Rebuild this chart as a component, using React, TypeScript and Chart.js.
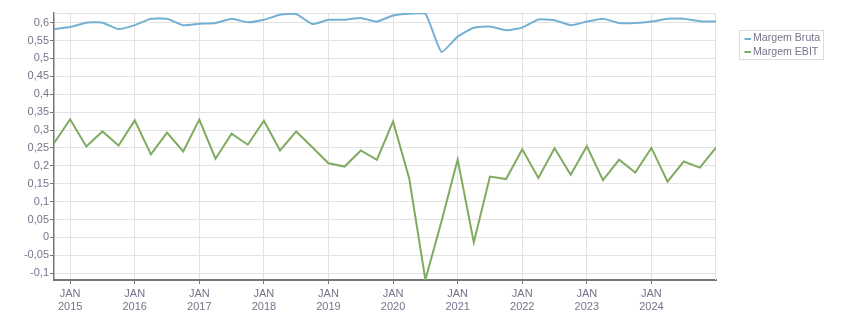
import React, { useEffect, useRef } from "react";
import { Chart, registerables } from "chart.js";

Chart.register(...registerables);

const seriesNames = ["Margem Bruta", "Margem EBIT"];

// Quarterly values, Oct 2014 .. Jan 2025 (index 0..41)
const margemBruta = [
  0.582, 0.588, 0.6, 0.6, 0.582, 0.593, 0.611, 0.611, 0.593, 0.597,
  0.599, 0.611, 0.601, 0.608, 0.622, 0.624, 0.596, 0.608, 0.608, 0.613,
  0.603, 0.62, 0.625, 0.625, 0.518, 0.561, 0.586, 0.589, 0.579, 0.586,
  0.609, 0.607, 0.593, 0.603, 0.611, 0.599, 0.599, 0.603, 0.611, 0.611,
  0.604, 0.603,
];

const margemEbit = [
  0.263, 0.33, 0.254, 0.296, 0.257, 0.327, 0.232, 0.293, 0.24, 0.329,
  0.22, 0.29, 0.259, 0.326, 0.243, 0.296, 0.252, 0.207, 0.198, 0.243,
  0.217, 0.324, 0.165, -0.118, 0.045, 0.218, -0.014, 0.17, 0.163, 0.246,
  0.166, 0.249, 0.175, 0.255, 0.16, 0.217, 0.181, 0.25, 0.156, 0.212,
  0.195, 0.251,
];

const janIndex = [1, 5, 9, 13, 17, 21, 25, 29, 33, 37];
const janYears = ["2015", "2016", "2017", "2018", "2019", "2020", "2021", "2022", "2023", "2024"];
const monthLabel = "JAN";

const yMin = -0.119;
const yMax = 0.627;
const yStep = 0.05;

const seriesColors = ["#74b0d4", "#80aa60"];
const FONT = "'Liberation Sans', Arial, sans-serif";
const TEXT = "#74748a";
const GRID = "#e2e2e2";
const AXIS = "#777777";

function fmt(v: number): string {
  const r = Math.round(v * 100) / 100;
  return String(r).replace(".", ",");
}

export default function App() {
  const ref = useRef<HTMLCanvasElement>(null);

  useEffect(() => {
    document.body.style.margin = "0";
    const canvas = ref.current;
    if (!canvas) return;

    const framePlugin = {
      id: "frame",
      beforeDatasetsDraw(chart: any) {
        const { ctx, chartArea } = chart;
        ctx.save();
        ctx.strokeStyle = GRID;
        ctx.lineWidth = 1;
        ctx.beginPath();
        ctx.moveTo(chartArea.left, chartArea.top + 0.5);
        ctx.lineTo(chartArea.right, chartArea.top + 0.5);
        ctx.moveTo(chartArea.right - 0.5, chartArea.top);
        ctx.lineTo(chartArea.right - 0.5, chartArea.bottom);
        ctx.stroke();
        ctx.restore();
      },
    };

    const legendPlugin = {
      id: "boxLegend",
      afterDraw(chart: any) {
        const { ctx } = chart;
        ctx.save();
        ctx.strokeStyle = "#dddddd";
        ctx.lineWidth = 1;
        ctx.strokeRect(739.5, 30.5, 84, 29);
        ctx.font = `10.6px ${FONT}`;
        ctx.textBaseline = "middle";
        ctx.textAlign = "left";
        chart.data.datasets.forEach((ds: any, i: number) => {
          const y = 38.5 + i * 13.3;
          ctx.strokeStyle = ds.borderColor;
          ctx.lineWidth = 2;
          ctx.beginPath();
          ctx.moveTo(744.5, Math.round(y));
          ctx.lineTo(751, Math.round(y));
          ctx.stroke();
          ctx.fillStyle = TEXT;
          ctx.fillText(ds.label, 753, y);
        });
        ctx.restore();
      },
    };

    const chart = new Chart(canvas, {
      type: "line",
      data: {
        datasets: [
          {
            label: seriesNames[0],
            data: margemBruta.map((y, i) => ({ x: i, y })),
            borderColor: seriesColors[0],
            backgroundColor: seriesColors[0],
            borderWidth: 2,
            pointRadius: 0,
            tension: 0.15,
          },
          {
            label: seriesNames[1],
            data: margemEbit.map((y, i) => ({ x: i, y })),
            borderColor: seriesColors[1],
            backgroundColor: seriesColors[1],
            borderWidth: 2,
            pointRadius: 0,
            tension: 0,
          },
        ],
      },
      options: {
        responsive: false,
        animation: false,
        layout: { padding: { top: 13, right: 135, left: 0, bottom: 0 } },
        plugins: { legend: { display: false }, tooltip: { enabled: false } },
        scales: {
          x: {
            type: "linear",
            min: 0,
            max: margemBruta.length - 1,
            afterBuildTicks: (s: any) => {
              s.ticks = janIndex.map((v) => ({ value: v }));
            },
            afterFit: (s: any) => {
              s.height = 33;
            },
            ticks: {
              autoSkip: false,
              maxRotation: 0,
              padding: 3,
              color: TEXT,
              font: { family: FONT, size: 11, lineHeight: 1.2 },
              callback: (v: any) => {
                const k = janIndex.indexOf(Number(v));
                return k >= 0 ? [monthLabel, janYears[k]] : "";
              },
            },
            grid: { color: GRID, lineWidth: 1, tickLength: 4, tickColor: AXIS },
            border: { color: AXIS, width: 2 },
          },
          y: {
            min: yMin,
            max: yMax,
            afterFit: (s: any) => {
              s.width = 54;
            },
            ticks: {
              stepSize: yStep,
              includeBounds: false,
              padding: 1,
              color: TEXT,
              font: { family: FONT, size: 11 },
              callback: (v: any) => fmt(Number(v)),
            },
            grid: { color: GRID, lineWidth: 1, tickLength: 4, tickColor: AXIS },
            border: { color: AXIS, width: 1.5 },
          },
        },
      },
      plugins: [framePlugin, legendPlugin],
    } as any);

    return () => chart.destroy();
  }, []);

  return <canvas ref={ref} width={851} height={313} style={{ display: "block" }} />;
}
